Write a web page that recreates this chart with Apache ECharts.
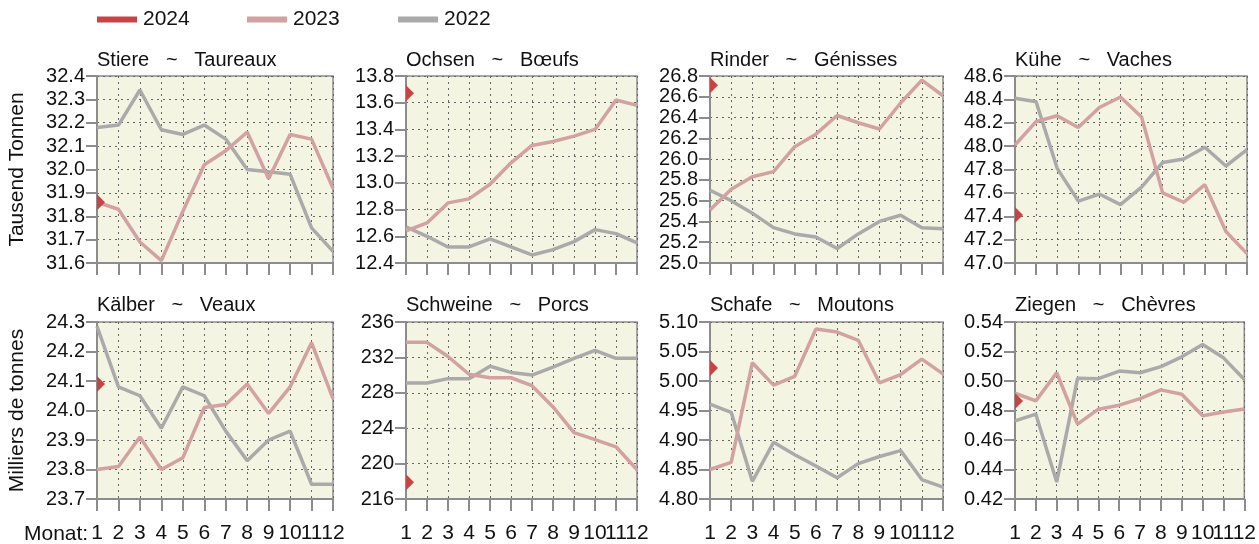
<!DOCTYPE html>
<html>
<head>
<meta charset="utf-8">
<script src="https://cdn.jsdelivr.net/npm/echarts@6/dist/echarts.min.js"></script>
<style>
  html, body { margin: 0; padding: 0; background: #ffffff; }
  #chart { width: 1259px; height: 544px; }
</style>
</head>
<body>
<div id="chart"></div>
<script>
// Months on the shared category axis
const months = ['1', '2', '3', '4', '5', '6', '7', '8', '9', '10', '11', '12'];

// Panel titles (German ~ French)
const titles = [
  'Stiere   ~   Taureaux', 'Ochsen   ~   Bœufs', 'Rinder   ~   Génisses', 'Kühe   ~   Vaches',
  'Kälber   ~   Veaux', 'Schweine   ~   Porcs', 'Schafe   ~   Moutons', 'Ziegen   ~   Chèvres'
];

// January 2024, one value per panel
const jan2024 = [31.86, 13.67, 26.71, 47.41, 24.09, 217.9, 5.022, 0.4865];

// Monthly values, thousand tonnes
const stiere2023 = [31.86, 31.83, 31.69, 31.61, 31.82, 32.02, 32.08, 32.16, 31.96, 32.15, 32.13, 31.92];
const stiere2022 = [32.18, 32.19, 32.34, 32.17, 32.15, 32.19, 32.13, 32.00, 31.99, 31.98, 31.75, 31.65];
const ochsen2023 = [12.64, 12.70, 12.85, 12.88, 12.99, 13.15, 13.28, 13.31, 13.35, 13.40, 13.62, 13.58];
const ochsen2022 = [12.67, 12.60, 12.52, 12.52, 12.58, 12.52, 12.46, 12.50, 12.56, 12.65, 12.62, 12.55];
const rinder2023 = [25.51, 25.71, 25.83, 25.88, 26.12, 26.24, 26.42, 26.35, 26.29, 26.54, 26.76, 26.61];
const rinder2022 = [25.70, 25.60, 25.48, 25.34, 25.28, 25.25, 25.14, 25.28, 25.40, 25.46, 25.34, 25.33];
const kuehe2023 = [48.01, 48.21, 48.26, 48.16, 48.33, 48.42, 48.25, 47.60, 47.52, 47.67, 47.27, 47.08];
const kuehe2022 = [48.41, 48.38, 47.81, 47.53, 47.59, 47.50, 47.65, 47.86, 47.89, 47.99, 47.83, 47.97];
const kaelber2023 = [23.80, 23.81, 23.91, 23.80, 23.84, 24.01, 24.02, 24.09, 23.99, 24.08, 24.23, 24.04];
const kaelber2022 = [24.285, 24.08, 24.05, 23.94, 24.08, 24.05, 23.93, 23.83, 23.90, 23.93, 23.75, 23.75];
const schweine2023 = [233.7, 233.7, 232.1, 230.1, 229.7, 229.7, 228.8, 226.4, 223.5, 222.7, 221.9, 219.3];
const schweine2022 = [229.1, 229.1, 229.6, 229.6, 231.0, 230.3, 230.0, 230.9, 231.9, 232.8, 231.9, 231.9];
const schafe2023 = [4.850, 4.862, 5.031, 4.993, 5.008, 5.088, 5.083, 5.069, 4.997, 5.011, 5.037, 5.012];
const schafe2022 = [4.961, 4.947, 4.830, 4.896, 4.875, 4.856, 4.836, 4.860, 4.872, 4.882, 4.833, 4.820];
const ziegen2023 = [0.4917, 0.4865, 0.5056, 0.4708, 0.4809, 0.4836, 0.4880, 0.4940, 0.4910, 0.4764, 0.4790, 0.4810];
const ziegen2022 = [0.4730, 0.4775, 0.4315, 0.5018, 0.5016, 0.5067, 0.5056, 0.5097, 0.5164, 0.5247, 0.5157, 0.5010];

// Value-axis ranges and tick steps per panel
const yMin = [31.6, 12.4, 25.0, 47.0, 23.7, 216, 4.80, 0.42];
const yMax = [32.4, 13.8, 26.8, 48.6, 24.3, 236, 5.10, 0.54];
const yStep = [0.1, 0.2, 0.2, 0.2, 0.1, 4, 0.05, 0.02];
const yDecimals = [1, 1, 1, 1, 1, 0, 2, 2];

const yAxisNames = ['Tausend Tonnen', 'Milliers de tonnes'];
const xAxisCaption = 'Monat:';
const legendYears = ['2024', '2023', '2022'];

const series2023 = [stiere2023, ochsen2023, rinder2023, kuehe2023, kaelber2023, schweine2023, schafe2023, ziegen2023];
const series2022 = [stiere2022, ochsen2022, rinder2022, kuehe2022, kaelber2022, schweine2022, schafe2022, ziegen2022];

// Layout
const FONT = '"Liberation Sans", Arial, sans-serif';
const colLeft = [97, 406, 710, 1015];
const colWidth = [236, 231, 233, 232];
const rowTop = [76, 322];
const rowHeight = [187, 178];
const titleTop = [50, 295];

const COLOR_2024 = '#c84444';
const COLOR_2023 = '#d3a1a1';
const COLOR_2022 = '#aaaaaa';
const AXIS_GRAY = '#8c8c8c';
const GRID_DASH = '#666666';

const grids = [], xAxes = [], yAxes = [], tickAxes = [], series = [], titleList = [];

for (let i = 0; i < 8; i++) {
  const row = Math.floor(i / 4), col = i % 4;
  grids.push({
    left: colLeft[col], top: rowTop[row], width: colWidth[col], height: rowHeight[row],
    show: true, backgroundColor: '#f4f4e3', borderColor: AXIS_GRAY, borderWidth: 1.5,
    containLabel: false
  });
  titleList.push({
    text: titles[i], left: colLeft[col], top: titleTop[row], padding: 0,
    textStyle: { fontFamily: FONT, fontSize: 20, fontWeight: 'normal', color: '#111' }
  });
  xAxes.push({
    type: 'category', gridIndex: i, data: months, boundaryGap: false,
    axisLine: { show: true, lineStyle: { color: AXIS_GRAY, width: 2 } },
    axisTick: { show: true, length: 12, lineStyle: { color: AXIS_GRAY, width: 2 } },
    axisLabel: {
      show: row === 1, interval: 0, margin: 24, fontFamily: FONT, fontSize: 21, color: '#111',
      alignMinLabel: 'center', alignMaxLabel: 'center'
    },
    splitLine: { show: true, interval: 0, lineStyle: { color: GRID_DASH, width: 1, type: [2, 4] } }
  });
  const dec = yDecimals[i];
  const yAxis = {
    type: 'value', gridIndex: i, min: yMin[i], max: yMax[i], interval: yStep[i],
    axisLine: { show: true, lineStyle: { color: AXIS_GRAY, width: 2 } },
    axisTick: { show: false },
    axisLabel: {
      margin: 12, fontFamily: FONT, fontSize: 20, lineHeight: 16, color: '#111',
      showMinLabel: true, showMaxLabel: true, hideOverlap: false,
      formatter: v => v.toFixed(dec)
    },
    splitLine: { show: true, lineStyle: { color: GRID_DASH, width: 1, type: [2, 4] } }
  };
  if (col === 0) {
    Object.assign(yAxis, {
      name: yAxisNames[row], nameLocation: 'middle', nameGap: 69, nameRotate: 90,
      nameTextStyle: { fontFamily: FONT, fontSize: 21, color: '#111' }
    });
  }
  yAxes.push(yAxis);

  // Companion axis on the same grid that carries only the outward tick marks
  tickAxes.push({
    type: 'value', gridIndex: i, position: 'left', offset: 0,
    min: yMin[i], max: yMax[i], interval: yStep[i],
    axisLine: { show: false },
    axisTick: { show: true, length: 11, lineStyle: { color: AXIS_GRAY, width: 2 } },
    axisLabel: { show: false },
    splitLine: { show: false }
  });

  series.push({
    name: '2022', type: 'line', xAxisIndex: i, yAxisIndex: i, data: series2022[i],
    showSymbol: false, lineStyle: { color: COLOR_2022, width: 3.5 }, itemStyle: { color: COLOR_2022 },
    emphasis: { disabled: true }
  });
  series.push({
    name: '2023', type: 'line', xAxisIndex: i, yAxisIndex: i, data: series2023[i],
    showSymbol: false, lineStyle: { color: COLOR_2023, width: 3.5 }, itemStyle: { color: COLOR_2023 },
    emphasis: { disabled: true }
  });
  series.push({
    name: '2024', type: 'line', xAxisIndex: i, yAxisIndex: i, data: [jan2024[i]],
    clip: false, showSymbol: true, symbol: 'triangle', symbolSize: [16, 8], symbolRotate: -90,
    symbolOffset: [4, 0], lineStyle: { color: COLOR_2024, width: 0 }, itemStyle: { color: COLOR_2024 },
    emphasis: { disabled: true }, z: 5
  });
}

const legendLeft = [97, 247, 398];
const legends = legendYears.map((y, k) => ({
  data: [y], left: legendLeft[k], top: 9, icon: 'rect', itemWidth: 40, itemHeight: 6,
  itemGap: 10, padding: 0, selectedMode: false,
  textStyle: { fontFamily: FONT, fontSize: 21, color: '#111', padding: [0, 0, 0, 1] }
}));

const chart = echarts.init(document.getElementById('chart'), null, { renderer: 'canvas' });
chart.setOption({
  animation: false,
  backgroundColor: '#ffffff',
  title: titleList,
  legend: legends,
  grid: grids,
  xAxis: xAxes,
  yAxis: yAxes.concat(tickAxes),
  series: series,
  graphic: [{
    type: 'text', left: 24, top: 524,
    style: { text: xAxisCaption, fontFamily: FONT, fontSize: 21, fill: '#111' }
  }]
});
</script>
</body>
</html>
